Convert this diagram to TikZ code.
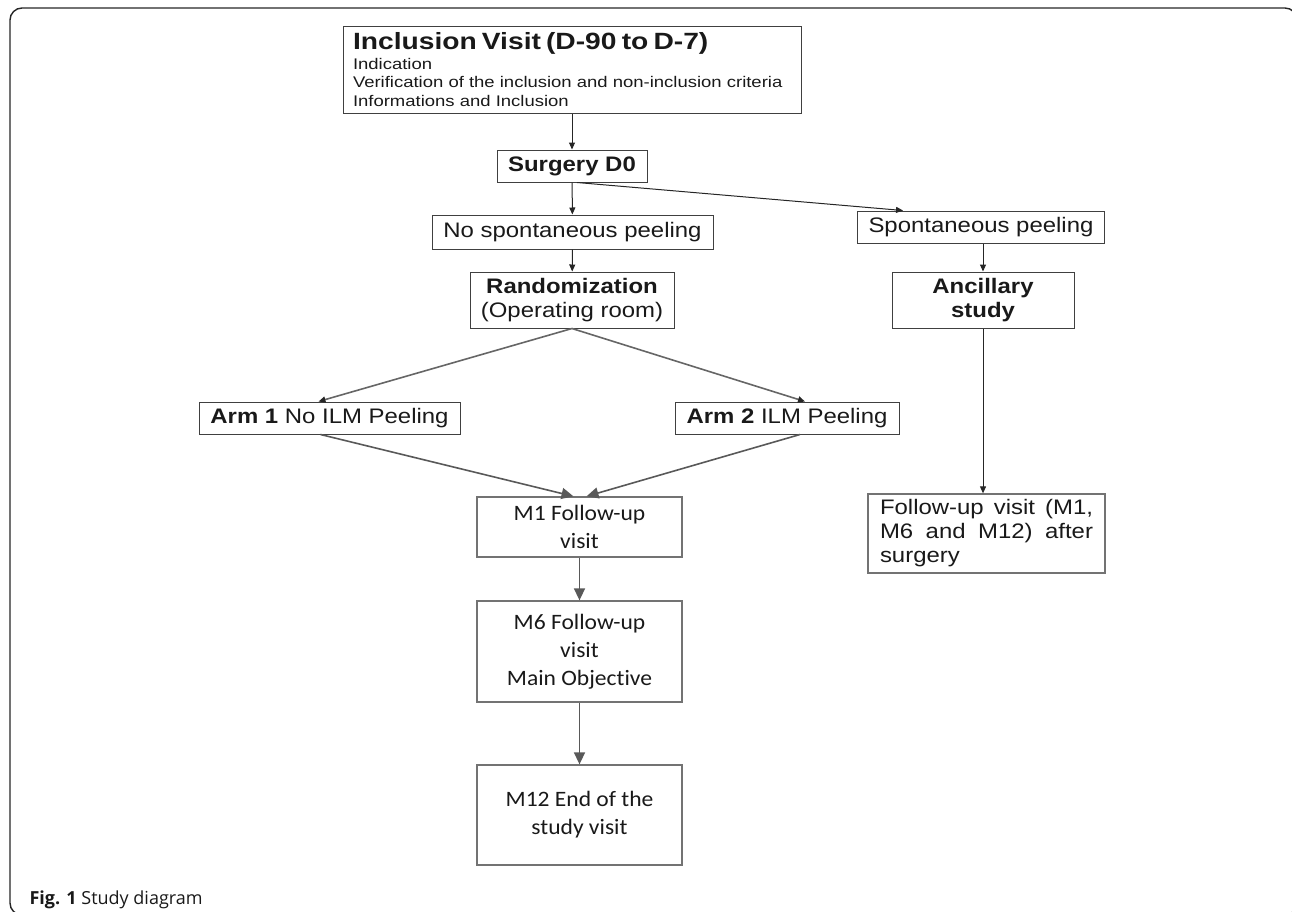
\documentclass[tikz,border=0pt]{standalone}
\usepackage{fontspec}
\usepackage{tikz}
\usetikzlibrary{arrows.meta, positioning}

\newfontfamily\arialw{Liberation Sans}[FakeStretch=1.14]
\newfontfamily\arialinc{Liberation Sans}[FakeStretch=1.2]
\newfontfamily\calibw{Carlito}[FakeStretch=1.07, Ligatures=NoCommon]
\newfontfamily\capfont{Open Sans}

\newcommand{\armtext}{\arialw\fontsize{21}{24}\selectfont}
\newcommand{\incltitle}{\arialinc\bfseries\fontsize{23.5}{22}\selectfont}
\newcommand{\inclbody}{\arialinc\fontsize{15.4}{18.5}\selectfont}
\newcommand{\visittext}{\calibw\fontsize{22}{28}\selectfont}

\begin{document}
\begin{tikzpicture}[
    x=1pt, y=-1pt,
    every node/.style={align=center, text=black!90},
    box/.style={rectangle, draw=black!75, line width=1pt, inner sep=0pt, font=\armtext},
    visit/.style={rectangle, draw=black!55, line width=1.3pt, inner sep=0pt, font=\visittext, minimum width=205pt},
    arrow/.style={-{Triangle[length=7pt,width=6pt]}, line width=1pt, black!85},
    greyline/.style={-{Triangle[length=7pt,width=6pt,black!85]}, line width=1.6pt, black!60},
    bigarrow/.style={-{Triangle[length=12pt,width=11pt]}, line width=1.6pt, black!65},
    frame/.style={draw=black!85, line width=1.4pt, rounded corners=12pt}
]
\useasboundingbox (0,0) rectangle (1292,911);

% --- Cadre de la figure
\draw[frame] (10,8) rectangle (1297,915);

% --- Inclusion et chirurgie
\node[box, font=\inclbody, align=left, text width=438pt, inner xsep=10pt,
    minimum width=458pt, minimum height=87pt] (incl) at (572,69.5)
    {{\incltitle Inclusion Visit (D-90 to D-7)}\\[1pt]Indication\\Verification of the inclusion and non-inclusion criteria\\Informations and Inclusion};
\node[box, font=\armtext\bfseries, minimum width=150pt, minimum height=32pt] (surg) at (572,166) {Surgery D0};

% --- Branche gauche (randomisation)
\node[box, minimum width=281pt, minimum height=34pt] (nosp) at (572.5,232) {No spontaneous peeling};
\node[box, minimum width=204pt, minimum height=56pt] (rand) at (572,300) {\textbf{Randomization}\\(Operating room)};
\node[box, minimum width=261pt, minimum height=32pt] (arm1) at (329.5,418) {\textbf{Arm 1} No ILM Peeling};
\node[box, minimum width=224pt, minimum height=32pt] (arm2) at (787,418) {\textbf{Arm 2} ILM Peeling};

% --- Visites de suivi
\node[visit, minimum height=60pt] (m1) at (579.5,527) {M1 Follow-up\\visit};
\node[visit, minimum height=101pt] (m6) at (579.5,651.5) {M6 Follow-up\\visit\\Main Objective};
\node[visit, minimum height=100pt] (m12) at (579.5,815) {M12 End of the\\study visit};

% --- Branche droite (etude ancillaire)
\node[box, minimum width=247pt, minimum height=32pt] (spont) at (981,227) {Spontaneous peeling};
\node[box, minimum width=182pt, minimum height=56pt] (anc) at (983,300) {\textbf{Ancillary}\\\textbf{study}};
\node[box, draw=black!55, line width=1.3pt, align=justify, text width=213pt, inner xsep=12pt,
    minimum height=79pt] (fu) at (986.5,533.5)
    {\hyphenpenalty=10000 Follow-up visit (M1, M6 and M12) after surgery};

% --- Fleches
\draw[arrow] (incl) -- (surg);
\draw[arrow] (surg) -- (nosp);
\draw[arrow] ([xshift=5pt]surg.south) -- ([xshift=46pt]spont.north west);
\draw[arrow] (nosp) -- (rand);
\draw[arrow] (spont.south -| anc) -- (anc);
\draw[arrow] (anc) -- (anc.south |- fu.north);

\draw[greyline] (rand.south) -- ([xshift=-11pt]arm1.north);
\draw[greyline] (rand.south) -- ([xshift=18pt]arm2.north);
\draw[bigarrow] ([xshift=-9pt]arm1.south) -- ([xshift=-6pt]m1.north);
\draw[bigarrow] ([xshift=13pt]arm2.south) -- ([xshift=7pt]m1.north);
\draw[bigarrow] (m1) -- (m6);
\draw[bigarrow] (m6) -- (m12);

% --- Legende
\node[anchor=base west, font=\capfont\fontsize{18}{20}\selectfont] (legende) at (26,904)
    {\textbf{Fig. 1} Study diagram};

\end{tikzpicture}
\end{document}
